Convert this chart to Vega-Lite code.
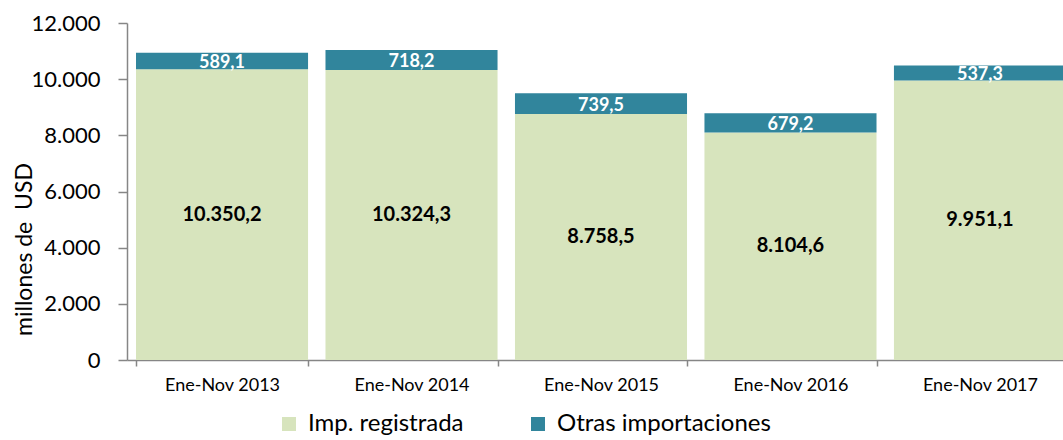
{
  "$schema": "https://vega.github.io/schema/vega-lite/v6.json",
  "autosize": "none",
  "width": 936,
  "height": 337,
  "padding": {"left": 127, "top": 23, "right": 0, "bottom": 80},
  "background": "white",
  "config": {
    "view": {"stroke": null},
    "font": "Lato",
    "locale": {"number": {"decimal": ",", "thousands": ".", "grouping": [3], "currency": ["", ""]}}
  },
  "data": {
    "values": [
      {"periodo": "Ene-Nov 2013", "serie": "Imp. registrada", "valor": 10350.2},
      {"periodo": "Ene-Nov 2013", "serie": "Otras importaciones", "valor": 589.1},
      {"periodo": "Ene-Nov 2014", "serie": "Imp. registrada", "valor": 10324.3},
      {"periodo": "Ene-Nov 2014", "serie": "Otras importaciones", "valor": 718.2},
      {"periodo": "Ene-Nov 2015", "serie": "Imp. registrada", "valor": 8758.5},
      {"periodo": "Ene-Nov 2015", "serie": "Otras importaciones", "valor": 739.5},
      {"periodo": "Ene-Nov 2016", "serie": "Imp. registrada", "valor": 8104.6},
      {"periodo": "Ene-Nov 2016", "serie": "Otras importaciones", "valor": 679.2},
      {"periodo": "Ene-Nov 2017", "serie": "Imp. registrada", "valor": 9951.1},
      {"periodo": "Ene-Nov 2017", "serie": "Otras importaciones", "valor": 537.3}
    ]
  },
  "transform": [
    {"stack": "valor", "groupby": ["periodo"], "sort": [{"field": "serie", "order": "ascending"}], "as": ["y0", "y1"]},
    {"calculate": "(datum.y0 + datum.y1) / 2", "as": "ymid"}
  ],
  "encoding": {
    "x": {
      "field": "periodo",
      "type": "nominal",
      "sort": null,
      "scale": {"range": [0, 948], "paddingInner": 0.092, "paddingOuter": 0.0475},
      "axis": {
        "title": null,
        "labelAngle": 0,
        "labelFontSize": 18,
        "labelColor": "#000000",
        "labelPadding": 10,
        "tickBand": "extent",
        "tickSize": 6,
        "tickColor": "#868686",
        "domainColor": "#868686",
        "domainWidth": 1.5,
        "tickWidth": 1.5
      }
    }
  },
  "layer": [
    {
      "mark": {"type": "bar"},
      "encoding": {
        "y": {
          "field": "y0",
          "type": "quantitative",
          "scale": {"domain": [0, 12000]},
          "axis": {
            "title": "millones de\u00a0\u00a0USD",
            "titleFontSize": 23,
            "titleFontWeight": "normal",
            "titleColor": "#000000",
            "titleAngle": -90,
            "titleX": -103,
            "titleY": 226,
            "titleAlign": "center",
            "titleBaseline": "middle",
            "values": [0, 2000, 4000, 6000, 8000, 10000, 12000],
            "format": ",.0f",
            "labelFontSize": 22,
            "labelColor": "#000000",
            "labelPadding": 18,
            "tickSize": 9,
            "tickColor": "#868686",
            "domainColor": "#868686",
            "domainWidth": 1.5,
            "tickWidth": 1.5,
            "grid": false
          }
        },
        "y2": {"field": "y1"},
        "color": {
          "field": "serie",
          "type": "nominal",
          "scale": {"domain": ["Imp. registrada", "Otras importaciones"], "range": ["#d7e4bd", "#31859c"]},
          "legend": {
            "title": null,
            "orient": "none",
            "direction": "horizontal",
            "legendX": 150,
            "legendY": 389,
            "symbolType": "square",
            "symbolSize": 196,
            "symbolStrokeWidth": 0,
            "labelFontSize": 24,
            "labelLimit": 0,
            "labelColor": "#000000",
            "labelOffset": 7,
            "columnPadding": 62
          }
        }
      }
    },
    {
      "transform": [{"filter": "datum.serie == 'Imp. registrada'"}],
      "mark": {"type": "text", "fontSize": 20, "fontWeight": "bold", "color": "#000000", "baseline": "middle"},
      "encoding": {
        "y": {"field": "ymid", "type": "quantitative"},
        "text": {"field": "valor", "type": "quantitative", "format": ",.1f"}
      }
    },
    {
      "transform": [{"filter": "datum.serie == 'Otras importaciones'"}],
      "mark": {"type": "text", "fontSize": 18, "fontWeight": "bold", "color": "#ffffff", "baseline": "middle", "dy": 2},
      "encoding": {
        "y": {"field": "ymid", "type": "quantitative"},
        "text": {"field": "valor", "type": "quantitative", "format": ",.1f"}
      }
    }
  ]
}
